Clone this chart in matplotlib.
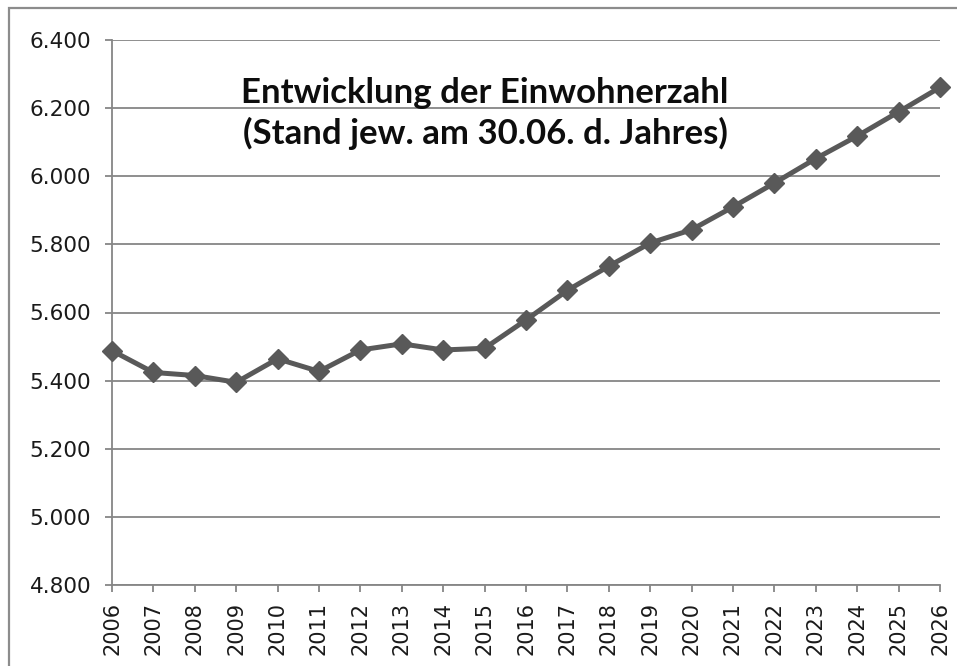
import matplotlib
matplotlib.use("Agg")
import matplotlib.pyplot as plt
from matplotlib.ticker import FuncFormatter, FixedLocator
from matplotlib.patches import Rectangle

years = list(range(2006, 2027))
population = [5488, 5424, 5415, 5395, 5464, 5427, 5490, 5508, 5490, 5495,
              5578, 5665, 5736, 5804, 5843, 5910, 5980, 6052, 6118, 6189, 6261]
y_ticks = [4800, 5000, 5200, 5400, 5600, 5800, 6000, 6200, 6400]
title_lines = ["Entwicklung der Einwohnerzahl", "(Stand jew. am 30.06. d. Jahres)"]

W, H = 957, 666
fig = plt.figure(figsize=(W / 100, H / 100), dpi=100)
fig.patch.set_facecolor("white")

# outer chart frame (cut off at right/bottom like the reference)
fig.patches.append(Rectangle((9 / W, -0.05), 1.1, 1 - 8 / H + 0.05,
                             transform=fig.transFigure, fill=False,
                             edgecolor="#8c8c8c", linewidth=1.6))

ax = fig.add_axes([112 / W, 1 - 585 / H, (940 - 112) / W, (585 - 40) / H])
ax.plot(years, population, color="#595959", linewidth=3.6, marker="D",
        markersize=10, markerfacecolor="#595959", markeredgecolor="#595959",
        zorder=3, clip_on=False)

ax.set_xlim(years[0], years[-1])
ax.set_ylim(y_ticks[0], y_ticks[-1])
ax.yaxis.set_major_locator(FixedLocator(y_ticks))
ax.set_xticks(years)
ax.set_xticklabels([str(y) for y in years], rotation=90)
ax.yaxis.set_major_formatter(FuncFormatter(lambda v, p: f"{v:,.0f}".replace(",", ".")))

ax.grid(axis="y", color="#868686", linewidth=1.3)
ax.set_axisbelow(True)
for s in ["top", "right"]:
    ax.spines[s].set_visible(False)
for s in ["left", "bottom"]:
    ax.spines[s].set_color("#868686")
    ax.spines[s].set_linewidth(1.3)
ax.tick_params(axis="both", colors="#868686", length=5, width=1.3,
               labelcolor="#1a1a1a", labelsize=15)
ax.tick_params(axis="y", pad=10, labelsize=15.5)
ax.tick_params(axis="x", pad=7)
for lab in ax.get_xticklabels() + ax.get_yticklabels():
    lab.set_fontfamily("DejaVu Sans")

ax.text(0.4505, 0.865, "\n".join(title_lines), transform=ax.transAxes,
        ha="center", va="center", fontsize=25, fontweight="bold",
        family=["Lato", "DejaVu Sans"], color="#0d0d0d", linespacing=1.28)

fig.savefig("out.png", dpi=100, facecolor="white")
